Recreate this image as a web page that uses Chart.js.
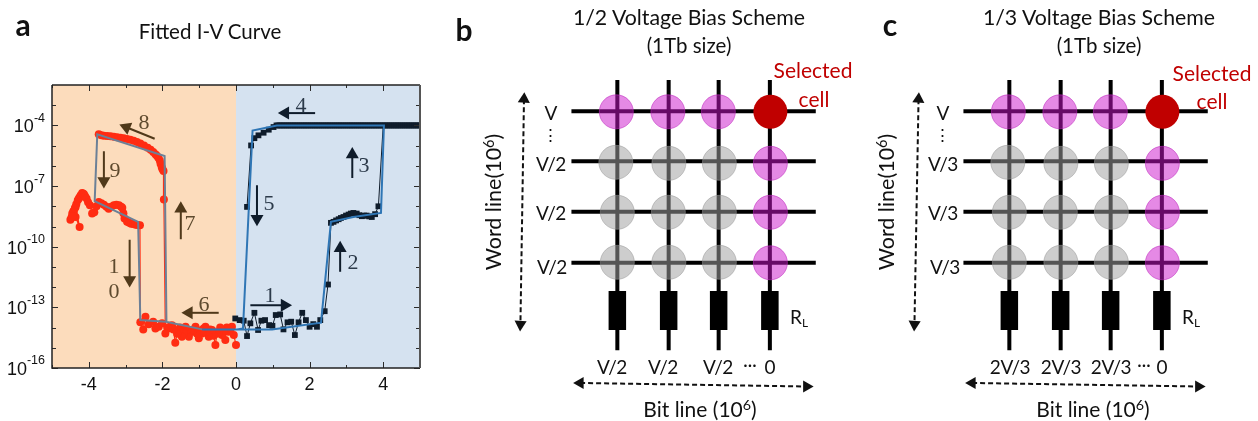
<!DOCTYPE html>
<html><head><meta charset="utf-8">
<script src="https://cdn.jsdelivr.net/npm/chart.js@4"></script>
<style>
html,body{margin:0;padding:0;background:#fff;width:1258px;height:421px;overflow:hidden}
canvas{position:absolute;top:0}
.t{position:absolute;transform:translate(-50%,-50%);white-space:nowrap;font-family:Lato,"Open Sans",sans-serif;color:#111;line-height:1}
.t sup{font-size:.68em;line-height:0;vertical-align:baseline;position:relative;top:-.46em}
.t sub{font-size:.62em;line-height:0;vertical-align:baseline;position:relative;top:.25em}
</style></head><body>
<div id="wa" style="position:absolute;left:0;top:0;width:440px;height:421px"><canvas id="a"></canvas></div>
<div id="wb" style="position:absolute;left:449px;top:0;width:403px;height:421px"><canvas id="b"></canvas></div>
<div id="wc" style="position:absolute;left:841px;top:0;width:403px;height:421px"><canvas id="c"></canvas></div>
<div id="labels"></div>
<script>
// ---------- Panel a: I-V data (log10 of current) ----------
const xTickValues=[-4,-2,0,2,4];
const xMinorTicks=[-5,-3,-1,1,3,5];
const yTickExponents=[-4,-7,-10,-13,-16];
const yMinorExponents=[-3,-5,-6,-8,-9,-11,-12,-14,-15];
const shadeSpans=[[-5,0,"#fcdcbc"],[0,5,"#d5e2f0"]];

const redSweepX=[0,-0.06,-0.11,-0.15,-0.2,-0.25,-0.29,-0.34,-0.38,-0.43,-0.47,-0.52,-0.56,-0.61,-0.65,-0.7,-0.74,-0.79,-0.83,-0.88,-0.92,-0.97,-1.01,-1.06,-1.1,-1.15,-1.19,-1.24,-1.28,-1.33,-1.37,-1.42,-1.47,-1.52,-1.56,-1.6,-1.65,-1.7,-1.74,-1.78,-1.83,-1.87,-1.92,
 -1.96,-1.97,-2.0,-2.02,-2.05,-2.07,-2.11,-2.15,-2.19,-2.25,-2.32,-2.4,-2.5,-2.6,-2.69,-2.78,-2.87,-2.96,-3.05,-3.14,-3.23,-3.32,-3.41,-3.5,-3.59,-3.66,-3.73];
const redSweepLog=[-14.86,-14.37,-13.96,-14.1,-14.21,-14.0,-14.62,-14.2,-14.37,-14.0,-14.21,-14.3,-14.86,-14.4,-14.12,-14.1,-14.45,-14.2,-13.96,-14.05,-14.29,-14.15,-14.53,-14.3,-13.96,-14.1,-14.21,-14.2,-14.45,-14.1,-13.96,-14.25,-14.45,-14.0,-14.12,-14.3,-14.75,-14.1,-13.88,-13.95,-14.04,-14.0,-14.29,
 -7.67,-6.25,-6.15,-6.06,-5.9,-5.73,-5.6,-5.5,-5.43,-5.32,-5.2,-5.1,-4.99,-4.9,-4.82,-4.76,-4.71,-4.67,-4.64,-4.61,-4.58,-4.56,-4.54,-4.52,-4.51,-4.48,-4.44];
const redReturnX=[-4.5,-4.47,-4.45,-4.42,-4.36,-4.25,-4.36,-4.41,-4.45,-4.38,-4.34,-4.3,-4.27,-4.25,-4.22,-4.18,-4.15,-4.13,-4.1,-4.06,-4.02,-3.97,-3.91,-3.85,-3.79,-3.73,-3.66,-3.59,-3.52,-3.46,-3.39,-3.32,-3.25,-3.18,-3.12,-3.09,-3.06,-3.03,-2.96,-2.9,-2.85,-2.79,-2.73,-2.67,-2.61,
 -2.6,-2.52,-2.46,-2.37,-2.25,-2.19,-2.1,-2.01];
const redReturnLog=[-8.66,-8.55,-8.36,-8.25,-8.53,-9.02,-8.03,-8.28,-8.5,-8.1,-7.9,-7.7,-7.62,-7.55,-7.46,-7.34,-7.38,-7.41,-7.5,-7.62,-7.8,-7.95,-8.36,-8.3,-8.0,-7.79,-7.85,-7.92,-8.02,-8.12,-8.02,-7.95,-7.92,-7.95,-8.02,-8.07,-8.35,-8.61,-8.77,-8.82,-8.86,-8.88,-8.91,-8.93,-8.94,
 -13.74,-14.09,-13.47,-13.83,-13.71,-14.04,-13.96,-13.79];
const blackLowX=[-0.02,0.1,0.21,0.3,0.39,0.5,0.6,0.69,0.79,0.9,0.99,1.08,1.2,1.29,1.4,1.5,1.6,1.7,1.8,1.9,2.0,2.1,2.2,2.29,2.41,2.5,
 2.58,2.65,2.72,2.79,2.85,2.92,2.99,3.06,3.12,3.19,3.28,3.35,3.42,3.48,3.55,3.62,3.69,3.78,3.87,
 4.0,4.05,4.1,4.15,4.2,4.25,4.3,4.35,4.4,4.45,4.5,4.55,4.6,4.65,4.7,4.75,4.8,4.85,4.9,4.95,5.0];
const blackLowLog=[-13.55,-13.63,-13.66,-14.42,-13.79,-13.27,-14.12,-13.66,-13.63,-13.88,-13.91,-13.38,-13.35,-14.09,-13.74,-13.71,-14.37,-13.74,-13.27,-13.63,-13.96,-13.83,-13.96,-13.63,-13.19,-11.87,
 -8.82,-8.77,-8.7,-8.64,-8.58,-8.53,-8.46,-8.41,-8.36,-8.33,-8.36,-8.44,-8.49,-8.46,-8.46,-8.5,-8.53,-8.39,-8.0,
 -4,-4,-4,-4,-4,-4,-4,-4,-4,-4,-4,-4,-4,-4,-4,-4,-4,-4,-4,-4,-4];
const blackBackX=[3.95,3.9,3.85,3.8,3.75,3.7,3.65,3.6,3.55,3.5,3.45,3.4,3.35,3.3,3.25,3.2,3.15,3.1,3.05,3.0,2.95,2.9,2.85,2.8,2.75,2.7,2.65,2.6,2.55,2.5,2.45,2.4,2.35,2.3,2.25,2.2,2.15,2.1,2.05,2.0,1.95,1.9,1.85,1.8,1.75,1.7,1.65,1.6,1.55,1.5,1.45,1.4,1.35,1.3,1.25,1.2,1.15,1.1,1.02,0.89,0.75,0.61,0.5,0.41,0.3];
const blackBackLog=[-4,-4,-4,-4,-4,-4,-4,-4,-4,-4,-4,-4,-4,-4,-4,-4,-4,-4,-4,-4,-4,-4,-4,-4,-4,-4,-4,-4,-4,-4,-4,-4,-4,-4,-4,-4,-4,-4,-4,-4,-4,-4,-4,-4,-4,-4,-4,-4,-4,-4,-4,-4,-4,-4,-4,-4,-4,-4,-4.08,-4.21,-4.36,-4.49,-4.63,-4.99,-8.03];
const fitBlueX=[-0.92,0.03,0.98,2.31,2.58,3.19,3.94,4.02,1.11,0.45,0.19,0.03];
const fitBlueLog=[-14.09,-14.09,-14.09,-13.76,-8.77,-8.53,-8.33,-4,-4,-4.25,-14.04,-14.09];
const fitGrayX=[-0.92,-1.9,-2.6,-2.66,-3.84,-3.77,-1.94,-1.89];
const fitGrayLog=[-14.09,-13.71,-13.63,-8.77,-7.74,-4.44,-5.51,-13.71];

// arrows: tailX, tailLog, headX, headLog, rotation
const arrowsBrown=[[-2.21,-4.66,-2.98,-4.09,-68],[-3.59,-5.28,-3.59,-6.75,180],[-1.5,-9.63,-1.5,-8.12,0],[-2.89,-9.65,-2.89,-11.65,180],[-0.47,-13.27,-1.28,-13.27,-90]];
const arrowsNavy=[[2.15,-3.39,1.34,-3.39,-90],[3.16,-6.6,3.16,-5.44,0],[0.57,-6.96,0.57,-8.62,180],[2.83,-11.24,2.83,-10.08,0],[0.39,-12.89,1.32,-12.89,90]];

// ---------- Panels b, c: crossbar array in grid units ----------
const bitX=[0,1.006,1.986,2.99];
const wordY=[0,0.99,1.99,3];
const bitLineSpan=[-0.62,4.73];
const wordLineSpan=[-0.9,3.89];
const resistorSpan=[3.56,4.33];
const halfCellX=[-0.02,0.99,1.98,3,3,3];
const halfCellY=[0.01,0.01,0.01,1.03,2,3];
const idleCellX=[-0.03,1.01,2,0,1,2,0,1.01,2];
const idleCellY=[1.01,1.03,1.03,2,2,2,2.99,2.99,2.99];
const selectedCellX=[3];
const selectedCellY=[0.01];
const wordArrowB=[-1.83,-0.24,-1.9,4.22];
const bitArrowB=[-0.73,5.38,3.71,5.45];
const wordArrowC=[-1.78,-0.24,-1.86,4.22];
const bitArrowC=[-0.73,5.38,3.71,5.45];

const pts=(xs,ys)=>xs.map((x,i)=>({x,y:ys[i]}));
const logPts=(xs,ls)=>xs.map((x,i)=>({x,y:Math.pow(10,ls[i])}));

function arrowDS(a,color){
  return {data:logPts([a[0],a[2]],[a[1],a[3]]),showLine:true,borderColor:color,borderWidth:2,
    pointRadius:[0,7.5],pointStyle:"triangle",pointRotation:[0,a[4]],pointBackgroundColor:color,pointBorderWidth:0};
}
const framePlugin={id:"frame",
  beforeDatasetsDraw(ch){
    const c=ch.ctx,x=ch.scales.x,A=ch.chartArea;
    shadeSpans.forEach(s=>{c.fillStyle=s[2];const l=x.getPixelForValue(s[0]),r=x.getPixelForValue(s[1]);c.fillRect(l,A.top,r-l,A.bottom-A.top);});
  },
  afterDatasetsDraw(ch){
    const c=ch.ctx,x=ch.scales.x,y=ch.scales.y,A=ch.chartArea;
    c.save();c.strokeStyle="#2b2b2b";c.lineWidth=1;
    const hl=(v,n)=>{const p=Math.round(y.getPixelForValue(Math.pow(10,v)))+.5;c.beginPath();c.moveTo(A.left,p);c.lineTo(A.left+n,p);c.moveTo(A.right,p);c.lineTo(A.right-n,p);c.stroke();};
    const vl=(v,n)=>{const p=Math.round(x.getPixelForValue(v))+.5;c.beginPath();c.moveTo(p,A.bottom);c.lineTo(p,A.bottom-n);c.moveTo(p,A.top);c.lineTo(p,A.top+n);c.stroke();};
    yTickExponents.forEach(v=>hl(v,6));yMinorExponents.forEach(v=>hl(v,4));
    xTickValues.forEach(v=>vl(v,6));xMinorTicks.forEach(v=>vl(v,3));
    c.lineWidth=1.5;c.strokeStyle="#222";c.beginPath();c.moveTo(A.left,A.top);c.lineTo(A.right,A.top);c.stroke();
    c.beginPath();c.moveTo(A.left,A.top);c.lineTo(A.left,A.bottom);c.lineTo(A.right,A.bottom);c.stroke();
    c.lineWidth=2;c.strokeStyle="#555";c.beginPath();c.moveTo(A.right,A.top);c.lineTo(A.right,A.bottom);c.stroke();
    // y tick labels: 10 with raised exponent, placed by the log scale
    c.fillStyle="#111";c.textBaseline="middle";
    yTickExponents.forEach(e=>{
      const p=y.getPixelForValue(Math.pow(10,e)),sup=String(e);
      c.font='12.5px "Liberation Sans"';c.textAlign="right";c.fillText(sup,45,p-7);
      const w=c.measureText(sup).width;
      c.font='18px "Liberation Sans"';c.fillText("10",45-w,p+2);
    });
    c.restore();
  }};
new Chart(document.getElementById("a"),{type:"scatter",plugins:[framePlugin],
 data:{datasets:[
  {data:logPts(fitBlueX,fitBlueLog),showLine:true,borderColor:"#2f76b5",borderWidth:2,pointRadius:0},
  {data:logPts(fitGrayX,fitGrayLog),showLine:true,borderColor:"#6c8097",borderWidth:2,pointRadius:0},
  ...arrowsBrown.map(a=>arrowDS(a,"#50391a")),
  ...arrowsNavy.map(a=>arrowDS(a,"#0f1c2b")),
  {data:logPts(blackLowX,blackLowLog),showLine:true,borderColor:"#0f1c2b",borderWidth:1,pointStyle:"rect",pointRadius:4.1,pointBackgroundColor:"#0f1c2b",pointBorderWidth:0},
  {data:logPts(blackBackX,blackBackLog),showLine:true,borderColor:"#0f1c2b",borderWidth:1,pointStyle:"rect",pointRadius:4.1,pointBackgroundColor:"#0f1c2b",pointBorderWidth:0},
  {data:logPts(redSweepX,redSweepLog),showLine:true,borderColor:"#ff2c12",borderWidth:1.2,pointRadius:4,pointBackgroundColor:"#ff2c12",pointBorderWidth:0},
  {data:logPts(redReturnX,redReturnLog),showLine:true,borderColor:"#ff2c12",borderWidth:1.2,pointRadius:4,pointBackgroundColor:"#ff2c12",pointBorderWidth:0}
 ]},
 options:{responsive:true,maintainAspectRatio:false,animation:false,
  layout:{autoPadding:false,padding:{left:0,top:85,right:20,bottom:23}},
  plugins:{legend:{display:false},title:{display:false},tooltip:{enabled:false}},
  scales:{
   x:{type:"linear",min:-5,max:5,grid:{display:false,drawTicks:false},border:{display:false},
      afterBuildTicks:s=>{s.ticks=xTickValues.map(v=>({value:v}));},
      afterFit:s=>{s.height=30;},
      ticks:{autoSkip:false,maxRotation:0,padding:6,color:"#111",font:{family:'"Liberation Sans"',size:18},callback:v=>String(v)}},
   y:{type:"logarithmic",min:1e-16,max:1e-2,grid:{display:false,drawTicks:false},border:{display:false},
      afterBuildTicks:s=>{s.ticks=yTickExponents.map(v=>({value:Math.pow(10,v)}));},
      afterFit:s=>{s.width=52;},
      ticks:{display:false}}
  }}});

function crossbar(id,wordArrow,bitArrow){
  const datasets=[];
  const pinkFill="rgba(204,20,204,.5)",pinkEdge="rgba(190,40,190,.55)",greyFill="rgba(160,160,160,.53)",greyEdge="rgba(150,150,150,.5)";
  datasets.push({data:pts(selectedCellX,selectedCellY),pointRadius:17,pointBackgroundColor:"#c00000",pointBorderWidth:0,showLine:false});
  datasets.push({data:pts(halfCellX,halfCellY),pointRadius:17,pointBackgroundColor:pinkFill,pointBorderColor:pinkEdge,pointBorderWidth:1,showLine:false});
  datasets.push({data:pts(idleCellX,idleCellY),pointRadius:17,pointBackgroundColor:greyFill,pointBorderColor:greyEdge,pointBorderWidth:1,showLine:false});
  const dash={showLine:true,borderColor:"#111",borderWidth:2,borderDash:[5,3],pointStyle:"triangle",pointRadius:7,pointBackgroundColor:"#111",pointBorderWidth:0};
  datasets.push({...dash,data:pts([wordArrow[0],wordArrow[2]],[wordArrow[1],wordArrow[3]]),pointRotation:[3,183]});
  datasets.push({...dash,data:pts([bitArrow[0],bitArrow[2]],[bitArrow[1],bitArrow[3]]),pointRotation:[-90,90]});
  bitX.forEach(x=>{
    datasets.push({data:pts([x,x],resistorSpan),showLine:true,borderColor:"#000",borderWidth:17.5,borderCapStyle:"butt",pointRadius:0});
    datasets.push({data:pts([x,x],bitLineSpan),showLine:true,borderColor:"#000",borderWidth:4,borderCapStyle:"butt",pointRadius:0});
  });
  wordY.forEach(y=>datasets.push({data:pts(wordLineSpan,[y,y]),showLine:true,borderColor:"#000",borderWidth:4,borderCapStyle:"butt",pointRadius:0}));
  new Chart(document.getElementById(id),{type:"scatter",data:{datasets},
   options:{responsive:true,maintainAspectRatio:false,animation:false,layout:{autoPadding:false,padding:0},
    plugins:{legend:{display:false},tooltip:{enabled:false}},
    scales:{x:{type:"linear",display:false,min:-3.3,max:4.6},y:{type:"linear",display:false,reverse:true,min:-2.204,max:6.133}}}});
}
crossbar("b",wordArrowB,bitArrowB);
crossbar("c",wordArrowC,bitArrowC);

// ---------- text: [html, centre x, centre y, size, colour, extra css] ----------
const SERIF='font-family:"Liberation Serif",serif;';
const BROWN="#5e4a2e",NAVY="#2c3a4a",RED="#c00000",INK="#111";
const VL="letter-spacing:-.5px";
const ROT="transform:translate(-50%,-50%) rotate(-90deg)";
const textItems=[
 ["a",23,24,30,INK,"font-weight:700"],["b",464,29,30,INK,"font-weight:700"],["c",890,24,30,INK,"font-weight:700"],
 ["Fitted I-V Curve",210,31,20.5,INK,""],
 ["8",144,122,22,BROWN,SERIF],["9",115,170,22,BROWN,SERIF],["7",190,223,22,BROWN,SERIF],["1",114,266,22,BROWN,SERIF],["0",114,291,22,BROWN,SERIF],["6",204,304,22,BROWN,SERIF],
 ["4",301,105,22,NAVY,SERIF],["3",364,165,22,NAVY,SERIF],["5",269,203,22,NAVY,SERIF],["2",353,262,22,NAVY,SERIF],["1",270,295,22,NAVY,SERIF],
 // panel b
 ["1/2 Voltage Bias Scheme",689,18,21.3,INK,""],["(1Tb size)",689,45,20.5,INK,""],
 ["Selected",813,69,21,RED,""],["cell",814,98,21,RED,""],
 ["V",551,112,19,INK,""],["⋮",550,134,17,INK,""],["V/2",551,163,19,INK,VL],["V/2",551,212,19,INK,VL],["V/2",552,266,19,INK,VL],
 ["Word line(10<sup>6</sup>)",494,202,21.5,INK,ROT],
 ["R<sub>L</sub>",799,316,19,INK,""],
 ["V/2",612,366,19,INK,VL],["V/2",663,366,19,INK,VL],["V/2",718,366,19,INK,VL],["···",750,364,17,INK,""],["0",770,366,19,INK,""],
 ["Bit line (10<sup>6</sup>)",700,408,21,INK,""],
 // panel c
 ["1/3 Voltage Bias Scheme",1099,18,21.3,INK,""],["(1Tb size)",1099,45,20.5,INK,""],
 ["Selected",1212,72,21,RED,""],["cell",1212,100,21,RED,""],
 ["V",943,112,19,INK,""],["⋮",942,134,17,INK,""],["V/3",943,163,19,INK,VL],["V/3",943,212,19,INK,VL],["V/3",945,266,19,INK,VL],
 ["Word line(10<sup>6</sup>)",887,202,21.5,INK,ROT],
 ["R<sub>L</sub>",1191,316,19,INK,""],
 ["2V/3",1010,366,19,INK,VL],["2V/3",1061,366,19,INK,VL],["2V/3",1111,366,19,INK,VL],["···",1144,364,17,INK,""],["0",1162,366,19,INK,""],
 ["Bit line (10<sup>6</sup>)",1093,408,21,INK,""]
];
const host=document.getElementById("labels");
textItems.forEach(t=>{const d=document.createElement("div");d.className="t";d.innerHTML=t[0];
 d.style.cssText=`left:${t[1]}px;top:${t[2]}px;font-size:${t[3]}px;color:${t[4]};${t[5]}`;host.appendChild(d);});
</script></body></html>
